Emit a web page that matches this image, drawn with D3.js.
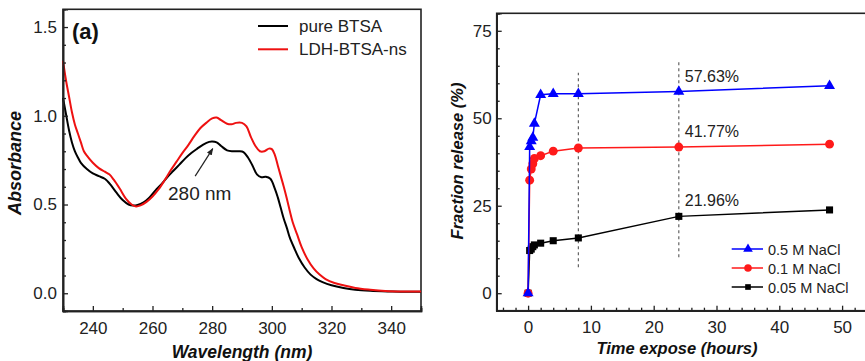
<!DOCTYPE html>
<html><head><meta charset="utf-8">
<script src="https://cdn.jsdelivr.net/npm/d3@7"></script>
<style>
html,body{margin:0;padding:0;background:#fff;}
svg{display:block;font-family:"Liberation Sans",Arial,sans-serif;}
</style></head>
<body>
<svg id="c" width="865" height="361"></svg>
<script>
// ---------- Panel (a) data ----------
const pureWl  = [230,231,232,233,234,235,236,238,240,242,244,245,246,248,250,252,253.5,255,257,259,261,263,265,267,269,271,273,275,277,279,280,281.5,283,285,287,289,290.5,292,293.5,295,296.5,298,299.5,301,302,303,304,305,306,307.5,309,311,313,315,317,320,324,328,333,340,345,350];
const pureAbs = [1.10,1.01,0.92,0.85,0.80,0.765,0.735,0.70,0.675,0.66,0.645,0.63,0.61,0.565,0.525,0.50,0.494,0.497,0.512,0.54,0.58,0.615,0.655,0.69,0.725,0.76,0.79,0.815,0.838,0.853,0.855,0.85,0.83,0.805,0.80,0.80,0.795,0.765,0.72,0.67,0.654,0.656,0.645,0.59,0.54,0.48,0.42,0.37,0.315,0.255,0.20,0.145,0.105,0.08,0.063,0.045,0.03,0.02,0.014,0.01,0.008,0.008];
const ldhWl   = [230,231,232,233,234,235,236,237,238,240,242,244,245.5,247,249,251,253,254.5,256,258,260,262,264,266,268,270,272,274,276,278,280,281.5,283,285,286.5,288,290,291.5,293,294.5,296,297.5,299,300,301,302,303,304,305,306,307,308.5,310,312,314,316,318,321,324,328,333,338,344,350];
const ldhAbs  = [1.31,1.20,1.11,1.02,0.95,0.90,0.85,0.80,0.775,0.735,0.705,0.685,0.67,0.64,0.59,0.535,0.50,0.489,0.495,0.515,0.545,0.585,0.635,0.69,0.74,0.79,0.835,0.885,0.93,0.96,0.985,0.99,0.975,0.955,0.952,0.96,0.96,0.94,0.88,0.83,0.80,0.80,0.815,0.812,0.78,0.72,0.66,0.60,0.535,0.465,0.40,0.33,0.26,0.19,0.14,0.105,0.08,0.058,0.045,0.03,0.02,0.013,0.01,0.01];
const xTicksA = [240,260,280,300,320,340];
const yTicksA = [0.0,0.5,1.0,1.5];
const seriesA = ["pure BTSA","LDH-BTSA-ns"];

// ---------- Panel (b) data ----------
const times   = [0,0.25,0.5,0.75,1,2,4,8,24,48];
const nacl05  = [0,41.8,43.5,44.5,48.5,56.7,57.0,57.0,57.63,59.3];
const nacl01  = [0,32.3,35.5,37.0,38.5,39.3,40.6,41.5,41.77,42.6];
const nacl005 = [0,12.2,12.6,13.3,13.8,14.3,15.0,15.8,21.96,23.8];
const seriesB = ["0.5 M NaCl","0.1 M NaCl","0.05 M NaCl"];
const xTicksB = [0,10,20,30,40,50];
const yTicksB = [0,25,50,75];
const dashX   = [8,24];
const dashLo  = [7.4,10.3];
const dashHi  = [63,66.3];
const noteT   = [24,24,24];
const noteV   = [57.63,41.77,21.96];
const noteTxt = ["57.63%","41.77%","21.96%"];

const svg = d3.select("#c");
const axisColor = "#222";

// ================= Panel (a) =================
const xa = d3.scaleLinear().domain([230,350]).range([63,421]);
const ya = d3.scaleLinear().domain([-0.1,1.6]).range([311,9.3]);
const ga = svg.append("g");

// frame
ga.append("rect").attr("x",63).attr("y",9.3).attr("width",421-63).attr("height",311-9.3)
  .attr("fill","none").attr("stroke",axisColor).attr("stroke-width",1.6);

const lineA = d3.line().x(d=>xa(d[0])).y(d=>ya(d[1])).curve(d3.curveCatmullRom.alpha(0.5));
ga.append("path").datum(pureWl.map((w,i)=>[w,pureAbs[i]]))
  .attr("d",lineA).attr("fill","none").attr("stroke","#000").attr("stroke-width",2);
ga.append("path").datum(ldhWl.map((w,i)=>[w,ldhAbs[i]]))
  .attr("d",lineA).attr("fill","none").attr("stroke","#ee1111").attr("stroke-width",2);

// axes (inside ticks)
const xAxA = d3.axisBottom(xa).tickValues(xTicksA).tickSize(-5).tickPadding(11).tickFormat(d3.format("d"));
const gxA = ga.append("g").attr("transform","translate(0,311)").call(xAxA);
const yAxA = d3.axisLeft(ya).tickValues(yTicksA).tickSize(-5).tickPadding(6).tickFormat(d3.format(".1f"));
const gyA = ga.append("g").attr("transform","translate(63,0)").call(yAxA);
// minor ticks
ga.append("g").attr("transform","translate(0,311)")
  .call(d3.axisBottom(xa).tickValues(d3.range(230,351,10).filter(v=>!xTicksA.includes(v))).tickSize(-3).tickFormat(""));
ga.append("g").attr("transform","translate(63,0)")
  .call(d3.axisLeft(ya).tickValues(d3.range(-1,16).map(v=>v/10).filter(v=>!yTicksA.includes(v))).tickSize(-3).tickFormat(""));

// ================= Panel (b) =================
const xb = d3.scaleLinear().domain([-5,55]).range([496.7,873.5]);
const yb = d3.scaleLinear().domain([-5,80]).range([310.7,13.3]);
const gb = svg.append("g");
gb.append("rect").attr("x",496.7).attr("y",13.3).attr("width",873.5-496.7).attr("height",310.7-13.3)
  .attr("fill","none").attr("stroke",axisColor).attr("stroke-width",1.6);

// dashed guides
dashX.forEach((t,i)=>{
  gb.append("line").attr("x1",xb(t)).attr("x2",xb(t)).attr("y1",yb(dashLo[i])).attr("y2",yb(dashHi[i]))
    .attr("stroke","#555").attr("stroke-width",1.1).attr("stroke-dasharray","3,3");
});

const xAxB = d3.axisBottom(xb).tickValues(xTicksB).tickSize(-5).tickPadding(10);
gb.append("g").attr("transform","translate(0,310.7)").call(xAxB);
const yAxB = d3.axisLeft(yb).tickValues(yTicksB).tickSize(-5).tickPadding(5);
gb.append("g").attr("transform","translate(496.7,0)").call(yAxB);
gb.append("g").attr("transform","translate(0,310.7)")
  .call(d3.axisBottom(xb).tickValues(d3.range(-4,55,2).filter(v=>!xTicksB.includes(v))).tickSize(-3).tickFormat(""));
gb.append("g").attr("transform","translate(496.7,0)")
  .call(d3.axisLeft(yb).tickValues(d3.range(-5,81,5).filter(v=>!yTicksB.includes(v))).tickSize(-3).tickFormat(""));

const lineB = d3.line().x(d=>xb(d[0])).y(d=>yb(d[1]));
const defs = [
  {vals:nacl005, color:"#000", shape:d3.symbolSquare, size:50},
  {vals:nacl01,  color:"#ff1a1a", shape:d3.symbolCircle, size:62},
  {vals:nacl05,  color:"#0000ff", shape:d3.symbolTriangle, size:52}
];
defs.forEach(s=>{
  const pts = times.map((t,i)=>[t,s.vals[i]]);
  gb.append("path").datum(pts).attr("d",lineB).attr("fill","none").attr("stroke",s.color).attr("stroke-width",1.5);
  gb.selectAll(null).data(pts).enter().append("path")
    .attr("d",d3.symbol().type(s.shape).size(s.size))
    .attr("transform",d=>`translate(${xb(d[0])},${yb(d[1])})`)
    .attr("fill",s.color);
});

// annotations
noteT.forEach((t,i)=>{
  gb.append("text").attr("x",xb(t)+6).attr("y",yb(noteV[i])-10).attr("font-size",16).attr("fill","#222").text(noteTxt[i]);
});

// legend (b)
const legB = [{c:"#0000ff",s:d3.symbolTriangle,z:40},{c:"#ff1a1a",s:d3.symbolCircle,z:45},{c:"#000",s:d3.symbolSquare,z:32}];
legB.forEach((l,i)=>{
  const y = 249 + i*19;
  gb.append("line").attr("x1",731.7).attr("x2",763).attr("y1",y).attr("y2",y).attr("stroke",l.c).attr("stroke-width",1.5);
  gb.append("path").attr("d",d3.symbol().type(l.s).size(l.z)).attr("transform",`translate(748,${y})`).attr("fill",l.c);
  gb.append("text").attr("x",768).attr("y",y+5.5).attr("font-size",14.5).attr("fill","#222").text(seriesB[i]);
});

// style axes
svg.selectAll(".domain").attr("stroke",axisColor).attr("stroke-width",1.6);
svg.selectAll(".tick line").attr("stroke",axisColor).attr("stroke-width",1.3);
svg.selectAll(".tick text").attr("font-size",17).attr("fill","#222").attr("font-family","Liberation Sans, Arial, sans-serif");

// ---- panel (a) texts ----
ga.append("text").attr("x",72).attr("y",39).attr("font-size",22).attr("font-weight","bold").attr("fill","#111").text("(a)");
[["#000",26],["#ee1111",49.3]].forEach((l,i)=>{
  ga.append("line").attr("x1",258).attr("x2",288).attr("y1",l[1]).attr("y2",l[1]).attr("stroke",l[0]).attr("stroke-width",2);
  ga.append("text").attr("x",299).attr("y",l[1]+6).attr("font-size",17).attr("fill","#222").text(seriesA[i]);
});
ga.append("text").attr("x",168).attr("y",199.5).attr("font-size",19).attr("fill","#222").text("280 nm");
svg.append("defs").append("marker").attr("id","ah").attr("viewBox","0 0 10 10").attr("refX",9).attr("refY",5)
  .attr("markerWidth",6).attr("markerHeight",6).attr("orient","auto")
  .append("path").attr("d","M0,1 L10,5 L0,9 Z").attr("fill","#222");
ga.append("line").attr("x1",xa(274.3)).attr("y1",ya(0.66)).attr("x2",xa(280.2)).attr("y2",ya(0.815))
  .attr("stroke","#222").attr("stroke-width",1.2).attr("marker-end","url(#ah)");

ga.append("text").attr("transform","translate(21,163) rotate(-90)").attr("text-anchor","middle")
  .attr("font-size",18).attr("font-weight","bold").attr("font-style","italic").attr("fill","#111").text("Absorbance");
ga.append("text").attr("x",242).attr("y",357.5).attr("text-anchor","middle")
  .attr("font-size",17.5).attr("font-weight","bold").attr("font-style","italic").attr("fill","#111").text("Wavelength (nm)");

// ---- panel (b) titles ----
gb.append("text").attr("transform","translate(462.5,161) rotate(-90)").attr("text-anchor","middle")
  .attr("font-size",16.5).attr("font-weight","bold").attr("font-style","italic").attr("fill","#111").text("Fraction release (%)");
gb.append("text").attr("x",677).attr("y",354).attr("text-anchor","middle")
  .attr("font-size",16.5).attr("font-weight","bold").attr("font-style","italic").attr("fill","#111").text("Time expose (hours)");
</script>
</body></html>
